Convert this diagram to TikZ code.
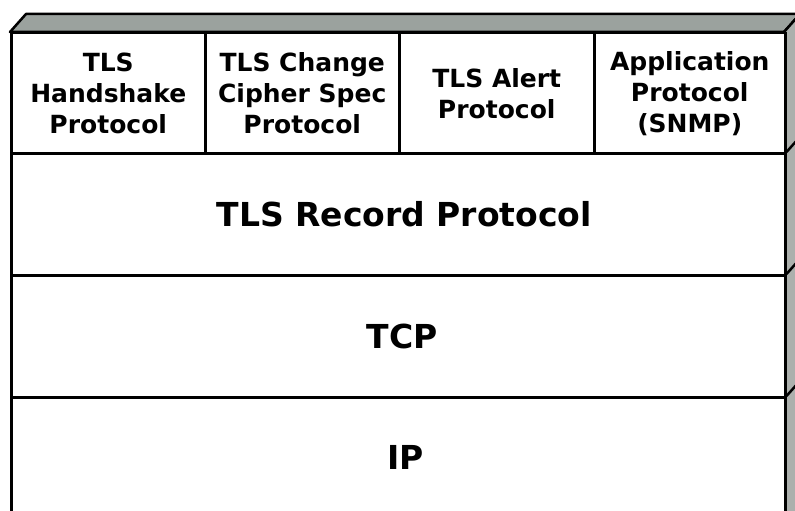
\documentclass[tikz,border=0pt]{standalone}
\usepackage{fontspec}
\setmainfont{DejaVu Sans}
\definecolor{topgray}{RGB}{155,162,158}
\definecolor{sidegray}{RGB}{172,176,173}
\begin{document}
\begin{tikzpicture}[x=1pt,y=-1pt,
  edge/.style={line width=2.5pt,line join=round},
  cell/.style={draw,line width=2.5pt,rectangle,inner sep=0pt,anchor=north west,
    fill=white,align=center,font=\bfseries\fontsize{25}{31}\selectfont},
  layer/.style={cell,font=\bfseries\fontsize{33}{40}\selectfont}]
\useasboundingbox (0,0) rectangle (795,511);
\begin{scope}
\clip (0,0) rectangle (795,511);
% box faces seen in perspective
\filldraw[edge,fill=topgray] (10,32) -- (26,14) -- (800,14) -- (784,32) -- cycle;
\filldraw[edge,fill=sidegray] (784,32) -- (800,14) -- (800,520) -- (784,538) -- cycle;
% upper protocols
\node[cell,minimum width=194pt,minimum height=120pt] (hs) at (10,32)
  {TLS\\Handshake\\Protocol};
\node[cell,minimum width=194pt,minimum height=120pt] (ccs) at (204,32)
  {TLS Change\\Cipher Spec\\Protocol};
\node[cell,minimum width=195pt,minimum height=120pt] (alert) at (398,32)
  {TLS Alert\\Protocol};
\node[cell,minimum width=191pt,minimum height=120pt] (app) at (593,32)
  {Application\\Protocol\\(SNMP)};
% lower layers
\node[layer,minimum width=774pt,minimum height=122pt] (rec) at (10,152)
  {\hspace*{12pt}TLS Record Protocol};
\node[layer,minimum width=774pt,minimum height=122pt] (tcp) at (10,274)
  {\hspace*{8pt}TCP};
\node[layer,minimum width=774pt,minimum height=120pt] (ip) at (10,396)
  {\hspace*{14pt}IP};
% layer edges continued on the side face
\draw[edge] (rec.north east) -- ++(16,-18);
\draw[edge] (tcp.north east) -- ++(16,-18);
\draw[edge] (ip.north east) -- ++(16,-18);
\end{scope}
\end{tikzpicture}
\end{document}
